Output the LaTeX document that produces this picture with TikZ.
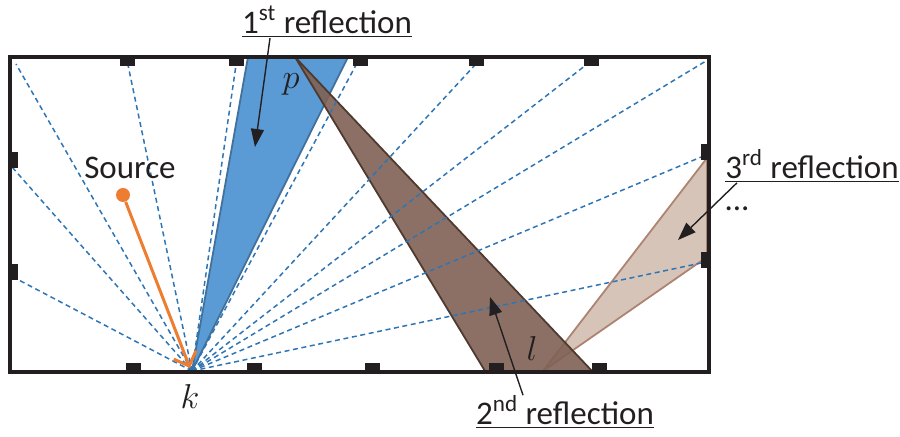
\documentclass[tikz,border=0pt]{standalone}
\usepackage{fontspec}
\setmainfont{Carlito}
\usepackage{tikz}
\usetikzlibrary{arrows.meta,calc}
\definecolor{wall}{HTML}{231F20}
\definecolor{ray}{HTML}{2E75B6}
\definecolor{firstfill}{HTML}{5B9BD5}
\definecolor{firstedge}{HTML}{41719C}
\definecolor{secondfill}{HTML}{7F6154}
\definecolor{secondedge}{HTML}{4F3A30}
\definecolor{thirdfill}{HTML}{D7C4B8}
\definecolor{thirdedge}{HTML}{AD8472}
\definecolor{src}{HTML}{ED7D31}

\begin{document}
\begin{tikzpicture}[x=0.5pt, y=-0.5pt,
  wallline/.style={draw=wall, line width=2.3pt},
  marker/.style={fill=wall},
  rayline/.style={draw=ray, line width=0.75pt, dash pattern=on 2.5pt off 1.8pt},
  beam/.style={line width=0.9pt, line join=round},
  lbl/.style={font=\fontsize{16.5}{19}\selectfont, text=wall, inner sep=0pt},
  ptlbl/.style={font=\fontsize{18}{20}\selectfont, text=wall, inner sep=0pt},
  arr/.style={-{Triangle[length=9pt,width=6.5pt]}, line width=0.7pt, draw=wall},
  srcarr/.style={draw=src, line width=1.5pt, -{Straight Barb[length=6pt,width=12pt,line width=1.5pt]}}
]
\useasboundingbox (0,0) rectangle (900,437);

% points of reflection
\coordinate (k) at (192,371);
\coordinate (p) at (295,57);
\coordinate (l) at (543,371);

% where the rays from k meet the walls
\foreach \n/\x/\y in {a/16/64, b/128/65, c/236/65, d/356/65, e/475/65, f/586/65,
                      g/706/61, h/706/155, i/706/262, j/12/167, m/13/277}
  \coordinate (w\n) at (\x,\y);

% reflected beams
\filldraw[beam, fill=firstfill, draw=firstedge] (k) -- (248,57) -- (348,57) -- cycle;
\filldraw[beam, fill=thirdfill, draw=thirdedge] (l) -- (707,158) -- (707,257) -- cycle;
\filldraw[beam, fill=secondfill, draw=secondedge, fill opacity=0.9] (p) -- (485,371) -- (592,371) -- cycle;

\foreach \n in {a,b,c,d,e,f,g,h,i,j,m}
  \draw[rayline] (k) -- (w\n);

% room with receivers
\draw[wallline] (10,57) rectangle (709,372);
\foreach \x in {127,236,360,476,591}
  \fill[marker] (\x-7.5,57) rectangle (\x+7.5,66);
\foreach \x in {133,254,372,496,599}
  \fill[marker] (\x-7.5,363) rectangle (\x+7.5,372);
\foreach \y in {160,272}
  \fill[marker] (10,\y-8) rectangle (18,\y+8);
\foreach \y in {152,260}
  \fill[marker] (701,\y-8) rectangle (709,\y+8);

% source
\node[circle, fill=src, minimum size=7pt, inner sep=0pt] (source) at (123,195) {};
\node[lbl] (srclbl) at (130,168) {Source};
\draw[srcarr] (source) -- ($(k)+(-2,-3)$);

\node[ptlbl] (klbl) at (190,397) {$k$};
\node[ptlbl] (plbl) at (291,84) {$p$};
\node[ptlbl] (llbl) at (532,349) {$l$};

% labels
\node[lbl] (first) at (327,22) {\underline{1\textsuperscript{st} reflection}};
\node[lbl] (second) at (565,412) {\underline{2\textsuperscript{nd} reflection}};
\node[lbl] (third) at (812,166) {\underline{3\textsuperscript{rd} reflection}};
\node[lbl] (dots) at (737,209) {...};

\draw[arr] ($(first.south)+(-57,0)$) -- (255,147);
\draw[arr] ($(second.north)+(-42,0)$) -- (490,297);
\draw[arr] ($(third.south)+(-75,0)$) -- (678,240);
\end{tikzpicture}
\end{document}
